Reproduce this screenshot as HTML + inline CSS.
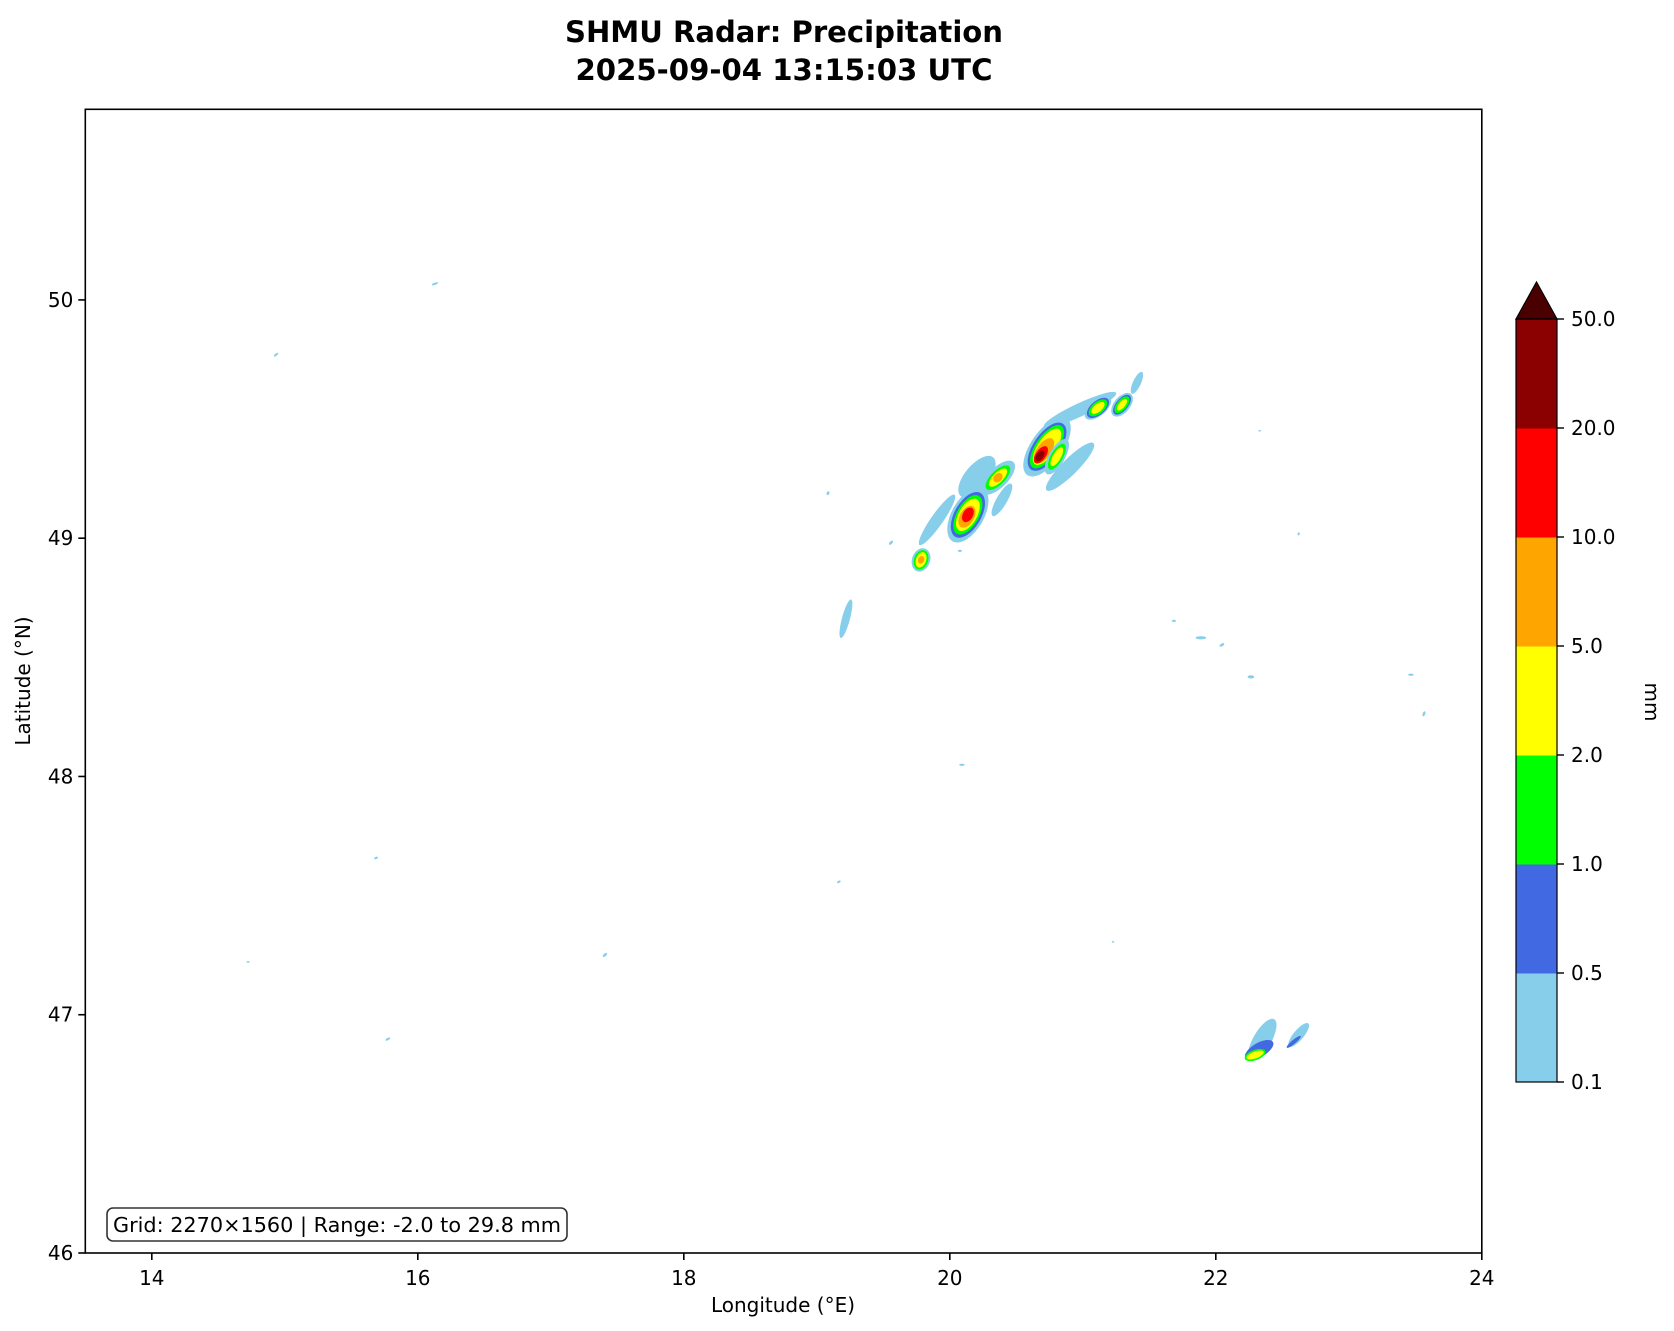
<!DOCTYPE html>
<html><head><meta charset="utf-8"><style>
html,body{margin:0;padding:0;background:#fff;}
svg{display:block;font-family:"DejaVu Sans","Liberation Sans",sans-serif;}
</style></head><body>
<svg id="chart" width="1674" height="1331" viewBox="0 0 1674 1331" xmlns="http://www.w3.org/2000/svg">
<text x="784" y="42" text-anchor="middle" font-size="29" font-weight="bold" textLength="438" lengthAdjust="spacingAndGlyphs">SHMU Radar: Precipitation</text>
<text x="784" y="80" text-anchor="middle" font-size="29" font-weight="bold" textLength="417" lengthAdjust="spacingAndGlyphs">2025-09-04 13:15:03 UTC</text>
<g id="plot"></g>
<rect x="85.3" y="109.3" width="1396.5" height="1143.7" fill="none" stroke="#000" stroke-width="1.6"/>
<g id="xticks"></g>
<g id="yticks"></g>
<text x="783" y="1312" text-anchor="middle" font-size="20">Longitude (°E)</text>
<text transform="translate(30,681) rotate(-90)" text-anchor="middle" font-size="20">Latitude (°N)</text>
<rect x="107" y="1208" width="460" height="33" rx="6" fill="#fff" stroke="#333" stroke-width="1.6"/>
<text x="113" y="1232" font-size="20" textLength="448" lengthAdjust="spacingAndGlyphs">Grid: 2270×1560 | Range: -2.0 to 29.8 mm</text>
<g id="cbar"></g>
<text transform="translate(1645,702) rotate(90)" text-anchor="middle" font-size="20">mm</text>
</svg>
<script>
const xTicks=[14,16,18,20,22,24];
const yTicks=[46,47,48,49,50];
const bounds=[0.1,0.5,1,2,5,10,20,50];
const boundLabels=["0.1","0.5","1.0","2.0","5.0","10.0","20.0","50.0"];
const colors=["#87ceeb","#4169e1","#00ff00","#ffff00","#ffa500","#ff0000","#8b0000"];
const overColor="#4a0000";
// blobs: lon, lat, semi-major (deg lon), semi-minor (deg lon), screen angle, value (mm)
const blobLon=[20.904,20.979,21.407,20.204,19.904,20.392,
20.731,20.731,20.731,20.731,20.708,20.685,20.678,
20.805,20.805,20.805,
20.136,20.136,20.136,20.136,20.129,20.136,
20.362,20.362,20.362,20.362,
19.784,19.784,19.784,19.784,
21.114,21.114,21.114,21.114,
21.295,21.295,21.295,21.295,
19.219,
14.934,16.129,19.084,19.558,20.076,21.685,21.888,22.046,22.264,23.467,23.565,20.091,19.166,15.686,14.724,17.407,15.775,22.623,22.330,21.228,
22.349,22.326,22.296,22.296,22.623,22.586];
const blobLat=[49.30,49.539,49.652,49.258,49.077,49.161,
49.384,49.384,49.384,49.384,49.367,49.350,49.346,
49.342,49.342,49.342,
49.098,49.098,49.098,49.098,49.090,49.098,
49.254,49.254,49.254,49.254,
48.909,48.909,48.909,48.909,
49.547,49.547,49.547,49.547,
49.560,49.560,49.560,49.560,
48.662,
49.770,50.068,49.189,48.981,48.947,48.653,48.582,48.552,48.418,48.427,48.263,48.049,47.558,47.658,47.222,47.251,46.898,49.018,49.451,47.306,
46.894,46.852,46.831,46.831,46.915,46.886];
const blobMajor=[0.25,0.30,0.09,0.19,0.23,0.14,
0.26,0.21,0.19,0.16,0.11,0.075,0.045,
0.15,0.11,0.08,
0.23,0.19,0.165,0.135,0.09,0.06,
0.165,0.12,0.09,0.04,
0.09,0.075,0.06,0.03,
0.12,0.10,0.083,0.06,
0.105,0.09,0.075,0.053,
0.15,
0.02,0.025,0.015,0.02,0.015,0.015,0.04,0.02,0.025,0.02,0.02,0.02,0.015,0.015,0.012,0.02,0.02,0.012,0.01,0.01,
0.18,0.12,0.083,0.068,0.113,0.068];
const blobMinor=[0.06,0.05,0.03,0.09,0.045,0.04,
0.12,0.10,0.083,0.068,0.053,0.038,0.026,
0.06,0.045,0.03,
0.12,0.10,0.083,0.068,0.053,0.038,
0.075,0.053,0.038,0.03,
0.068,0.053,0.038,0.023,
0.06,0.053,0.045,0.03,
0.06,0.045,0.038,0.023,
0.03,
0.008,0.008,0.01,0.01,0.008,0.008,0.012,0.01,0.012,0.008,0.01,0.008,0.008,0.008,0.006,0.01,0.008,0.008,0.006,0.006,
0.068,0.053,0.038,0.026,0.038,0.015];
const blobAngle=[-45,-25,-65,-50,-55,-60,
-55,-55,-55,-55,-55,-55,-55,
-60,-60,-60,
-60,-60,-60,-60,-60,-60,
-45,-45,-45,-45,
-70,-70,-70,-70,
-40,-40,-40,-40,
-50,-50,-50,-50,
-75,
-40,-20,-70,-45,0,0,0,-30,0,0,-70,0,-30,-20,0,-40,-30,-70,0,0,
-60,-30,-20,-20,-50,-40];
const blobValue=[0.3,0.3,0.3,0.3,0.3,0.3,
0.3,0.7,1.5,3,7,15,30,
0.3,1.5,3,
0.3,0.7,1.5,3,7,15,
0.3,1.5,3,7,
0.3,1.5,3,7,
0.3,0.7,1.5,3,
0.3,0.7,1.5,3,
0.3,
0.3,0.3,0.3,0.3,0.3,0.3,0.3,0.3,0.3,0.3,0.3,0.3,0.3,0.3,0.3,0.3,0.3,0.3,0.3,0.3,
0.3,0.7,1.5,3,0.3,0.7];

const NS="http://www.w3.org/2000/svg";
const X0=85.3,X1=1481.8,Y0=1253,Y1=109.3;
const lonMin=13.5,lonMax=24,latMin=46,latMax=50.8;
const pxPerLon=(X1-X0)/(lonMax-lonMin);
function xS(v){return X0+(v-lonMin)*pxPerLon;}
function yS(v){return Y0-(v-latMin)/(latMax-latMin)*(Y0-Y1);}
function colorFor(v){
  if(v>=bounds[bounds.length-1])return overColor;
  for(let i=0;i<bounds.length-1;i++){if(v<bounds[i+1])return colors[i];}
  return colors[0];
}
function mk(tag,attrs,parent){const e=document.createElementNS(NS,tag);for(const k in attrs)e.setAttribute(k,attrs[k]);parent.appendChild(e);return e;}

const plot=document.getElementById('plot');
for(let i=0;i<blobLon.length;i++){
  const cx=xS(blobLon[i]),cy=yS(blobLat[i]);
  const e=mk('ellipse',{cx:cx,cy:cy,rx:blobMajor[i]*pxPerLon,ry:blobMinor[i]*pxPerLon,transform:`rotate(${blobAngle[i]} ${cx} ${cy})`,fill:colorFor(blobValue[i])},plot);
  
  
}

const xt=document.getElementById('xticks');
xTicks.forEach(t=>{
  const x=xS(t);
  const l=mk('line',{x1:x,x2:x,y1:Y0,y2:Y0+7,stroke:'#000','stroke-width':1.6},xt);
  
  
  const tx=mk('text',{x:x,y:Y0+32,'text-anchor':'middle','font-size':20},xt);
  tx.textContent=t;
  
  
});
const yt=document.getElementById('yticks');
yTicks.forEach(t=>{
  const y=yS(t);
  const l=mk('line',{x1:X0-7,x2:X0,y1:y,y2:y,stroke:'#000','stroke-width':1.6},yt);
  
  
  const tx=mk('text',{x:X0-12,y:y+7,'text-anchor':'end','font-size':20},yt);
  tx.textContent=t;
  
  
});

const cb=document.getElementById('cbar');
const CX0=1516,CX1=1557,CT=319,CB=1082;
const seg=(CB-CT)/colors.length;
colors.forEach((c,i)=>{
  const r=mk('rect',{x:CX0,y:CB-(i+1)*seg,width:CX1-CX0,height:seg+0.5,fill:c},cb);
  
  
});
const tri=mk('polygon',{points:`${CX0},${CT} ${(CX0+CX1)/2},282 ${CX1},${CT}`,fill:overColor,stroke:'#000','stroke-width':1.2},cb);


const fr=mk('rect',{x:CX0,y:CT,width:CX1-CX0,height:CB-CT,fill:'none',stroke:'#000','stroke-width':1.2},cb);


boundLabels.forEach((lab,i)=>{
  const y=CB-i*seg;
  const l=mk('line',{x1:CX1,x2:CX1+7,y1:y,y2:y,stroke:'#000','stroke-width':1.4},cb);
  
  
  const tx=mk('text',{x:CX1+14,y:y+7,'font-size':20},cb);
  tx.textContent=lab;
  
  
});
</script>
</body></html>
